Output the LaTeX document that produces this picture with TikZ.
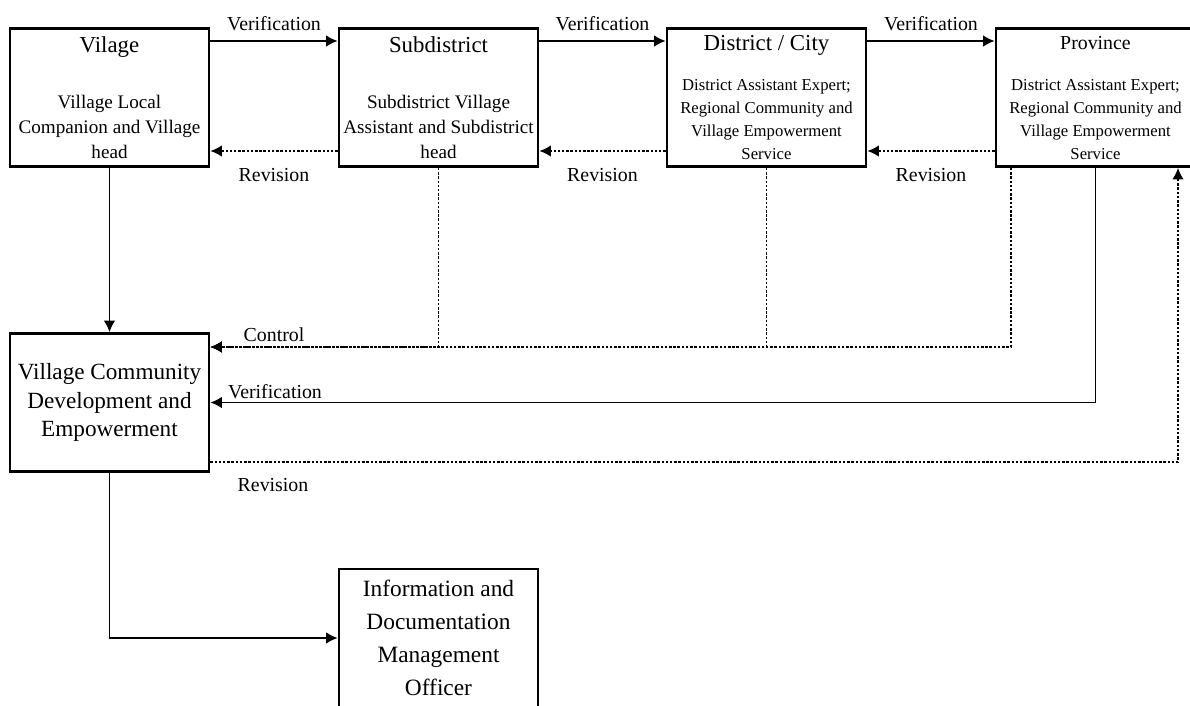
\documentclass[tikz,border=0pt]{standalone}
\usepackage{fontspec}
\setmainfont{Liberation Serif}
\usetikzlibrary{arrows.meta}
\begin{document}
\begin{tikzpicture}[x=0.02cm,y=-0.02cm,>={Latex[length=6.5pt,width=6.5pt]},
    box/.style={draw,line width=1.6pt,minimum width=3.98cm,minimum height=2.76cm,inner sep=0pt},
    ttl/.style={anchor=base,inner sep=0pt,font=\fontsize{13}{15}\selectfont},
    txt/.style={anchor=north,inner sep=0pt,align=center,font=\fontsize{10.9}{14.2}\selectfont},
    sml/.style={font=\fontsize{9.5}{13.1}\selectfont},
    lbl/.style={inner sep=0pt,font=\fontsize{11.3}{13}\selectfont},
    ln/.style={line width=0.8pt},
    rev/.style={line width=0.9pt,dash pattern=on 1.4pt off 1pt}]
    \useasboundingbox (0,0) rectangle (1190,706);

    \node (vil) at (109.5,97.5) [box] {};
    \node (sub) at (438.5,97.5) [box] {};
    \node (dist) at (766.5,97.5) [box] {};
    \node (prov) at (1095.5,97.5) [box] {};
    \node (vcde) at (109.5,402.5) [box,align=center,font=\fontsize{13.2}{16.2}\selectfont]
      {Village Community\\Development and\\Empowerment};
    \node (info) at (438.5,638) [box,align=center,font=\fontsize{13.3}{18.8}\selectfont]
      {Information and\\Documentation\\Management\\Officer};

    \node (vilT) at (109.5,53) [ttl] {Vilage};
    \node (vilB) at (109.5,95) [txt] {Village Local\\Companion and Village\\head};
    \node (subT) at (438.5,53) [ttl] {Subdistrict};
    \node (subB) at (438.5,95) [txt] {Subdistrict Village\\Assistant and Subdistrict\\head};
    \node (distT) at (766.5,51) [ttl] {District / City};
    \node (distB) at (766.5,79) [txt,sml]
      {District Assistant Expert;\\Regional Community and\\Village Empowerment\\Service};
    \node (provT) at (1095.5,50) [ttl,font=\fontsize{11.3}{13}\selectfont] {Province};
    \node (provB) at (1095.5,79) [txt,sml]
      {District Assistant Expert;\\Regional Community and\\Village Empowerment\\Service};

    \coordinate (vy) at (0,41);
    \coordinate (ry) at (0,151);
    \foreach \a/\b in {vil/sub,sub/dist,dist/prov}{
      \draw[ln,->] (\a.east |- vy) -- (\b.west |- vy)
        node[lbl,midway,above=5.5pt] (ver\a) {Verification};
      \draw[rev,->] (\b.west |- ry) -- (\a.east |- ry)
        node[lbl,midway,below=9.4pt] (rev\a) {Revision};
    }

    \draw[ln,->] (vil) -- (vcde);

    \coordinate (ctl) at (1011,347);
    \draw[rev,->] (sub.south) |- (vcde.east |- ctl);
    \draw[rev,->] (dist.south) |- (vcde.east |- ctl);
    \draw[rev,->] (prov.south -| ctl) -- (ctl) -- (vcde.east |- ctl);
    \node (ctlL) at (274,341) [lbl,anchor=base] {Control};

    \draw[ln,->] (prov.south) |- (vcde.east);
    \node (verL) at (275,398) [lbl,anchor=base] {Verification};

    \coordinate (rv) at (1178,462);
    \draw[rev,->] (vcde.east |- rv) -| (prov.south -| rv);
    \node (revL) at (273,491) [lbl,anchor=base] {Revision};

    \draw[ln,->] (vcde) |- (info);
  \end{tikzpicture}
\end{document}
